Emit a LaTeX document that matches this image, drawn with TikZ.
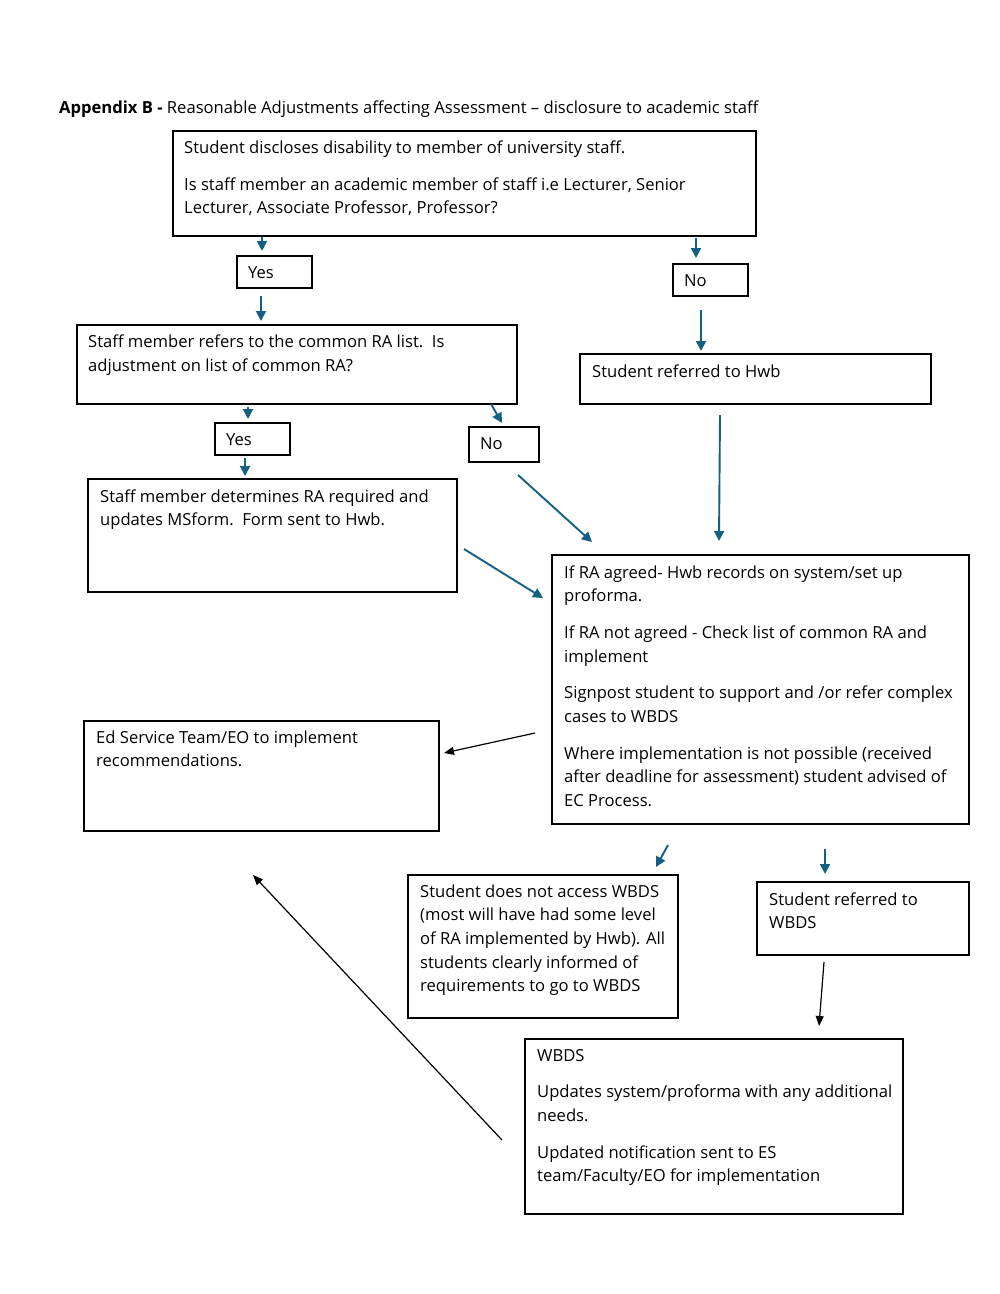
\documentclass[tikz,border=0pt]{standalone}
\usepackage{fontspec}
\setmainfont{Open Sans}
\usetikzlibrary{arrows.meta}
\definecolor{arrblue}{RGB}{21,96,130}
\newcommand{\ls}[1]{\begin{tabular}[t]{@{}l@{}}#1\end{tabular}}
\begin{document}
\begin{tikzpicture}[x=1pt,y=-1pt,
  box/.style={draw=black,line width=1.7pt,inner sep=0pt,anchor=north west},
  txt/.style={anchor=base west,inner sep=0pt,font=\fontsize{16.6}{23.7}\selectfont},
  barrow/.style={draw=arrblue,line width=1.9pt,-{Triangle[length=10pt,width=10pt]}},
  karrow/.style={draw=black,line width=1.2pt,-{Triangle[length=10pt,width=8pt]}}]
\useasboundingbox[fill=white] (0,0) rectangle (1000,1294);

% title
\node[txt] (title) at (59,113) {\textbf{Appendix B -} Reasonable Adjustments affecting Assessment -- disclosure to academic staff};

% boxes
\node[box,minimum width=583pt,minimum height=105pt] (b1) at (172,130) {};
\node[txt] (t1) at (184,153.5) {\ls{Student discloses disability to member of university staff.\\[13pt]
Is staff member an academic member of staff i.e Lecturer, Senior\\
Lecturer, Associate Professor, Professor?}};

\node[box,minimum width=75pt,minimum height=32pt] (yes1) at (236,255) {};
\node[txt] (ty1) at (248,278) {Yes};

\node[box,minimum width=75pt,minimum height=32pt] (no1) at (672,263) {};
\node[txt] (tn1) at (684,286) {No};

\node[box,minimum width=440pt,minimum height=79pt] (b2) at (76,324) {};
\node[txt] (t2) at (88,347.5) {\ls{Staff member refers to the common RA list.\ \ Is\\
adjustment on list of common RA?}};

\node[box,minimum width=351pt,minimum height=50pt] (hwb) at (579,353) {};
\node[txt] (thwb) at (592,377.5) {Student referred to Hwb};

\node[box,minimum width=75pt,minimum height=32pt] (yes2) at (214,422) {};
\node[txt] (ty2) at (226,445) {Yes};

\node[box,minimum width=70pt,minimum height=35pt] (no2) at (468,426) {};
\node[txt] (tn2) at (480,449.5) {No};

\node[box,minimum width=369pt,minimum height=113pt] (b3) at (87,478) {};
\node[txt] (t3) at (100,502) {\ls{Staff member determines RA required and\\
updates MSform.\ \ Form sent to Hwb.}};

\node[box,minimum width=417pt,minimum height=269pt] (big) at (551,554) {};
\node[txt] (tbig) at (564,578) {\ls{If RA agreed- Hwb records on system/set up\\
proforma.\\[13pt]
If RA not agreed - Check list of common RA and\\
implement\\[13pt]
Signpost student to support and /or refer complex\\
cases to WBDS\\[13pt]
Where implementation is not possible (received\\
after deadline for assessment) student advised of\\
EC Process.}};

\node[box,minimum width=355pt,minimum height=110pt] (ed) at (83,720) {};
\node[txt] (ted) at (96,743) {\ls{Ed Service Team/EO to implement\\
recommendations.}};

\node[box,minimum width=270pt,minimum height=143pt] (nacc) at (407,874) {};
\node[txt] (tnacc) at (420,897) {\ls{Student does not access WBDS\\
(most will have had some level\\
of RA implemented by Hwb). All\\
students clearly informed of\\
requirements to go to WBDS}};

\node[box,minimum width=212pt,minimum height=73pt] (refw) at (756,881) {};
\node[txt] (trefw) at (769,905) {\ls{Student referred to\\
WBDS}};

\node[box,minimum width=378pt,minimum height=175pt] (wbds) at (524,1038) {};
\node[txt] (twbds) at (537,1061) {\ls{WBDS\\[13pt]
Updates system/proforma with any additional\\
needs.\\[13pt]
Updated notification sent to ES\\
team/Faculty/EO for implementation}};

% arrow end points
\coordinate (a1s) at (262,237); \coordinate (a1e) at (262,251);
\coordinate (a2s) at (696,238); \coordinate (a2e) at (696,258);
\coordinate (a3s) at (261,296); \coordinate (a3e) at (261,321);
\coordinate (a4s) at (701,310); \coordinate (a4e) at (701,351);
\coordinate (a5s) at (248,407); \coordinate (a5e) at (248,419);
\coordinate (a6s) at (491,404); \coordinate (a6e) at (502,423);
\coordinate (a7s) at (245,458); \coordinate (a7e) at (245,476);
\coordinate (a8s) at (518,475); \coordinate (a8e) at (592,542);
\coordinate (a9s) at (720,415); \coordinate (a9e) at (719,541);
\coordinate (a10s) at (464,549); \coordinate (a10e) at (543,598);
\coordinate (a11s) at (668,845); \coordinate (a11e) at (656,867);
\coordinate (a12s) at (825,849); \coordinate (a12e) at (825,874);
\coordinate (k1s) at (535,733); \coordinate (k1e) at (444,753);
\coordinate (k2s) at (502,1140); \coordinate (k2e) at (253,875);
\coordinate (k3s) at (824,962); \coordinate (k3e) at (819,1026);

\foreach \i in {1,...,12} {\draw[barrow] (a\i s) -- (a\i e);}
\foreach \i in {1,2,3} {\draw[karrow] (k\i s) -- (k\i e);}
\end{tikzpicture}
\end{document}
